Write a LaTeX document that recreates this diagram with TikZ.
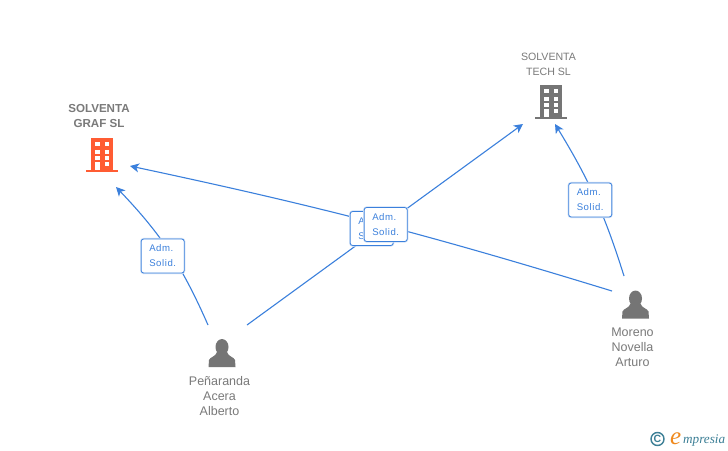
\documentclass[tikz,border=0pt]{standalone}
\usepackage{fontspec}
\usepackage{xcolor}
\setmainfont{Liberation Sans}
\newfontfamily\admfont[LetterSpace=6]{Liberation Sans}
\newfontfamily\logofont{Liberation Serif}
\usetikzlibrary{arrows.meta,calc,positioning}
\definecolor{linkblue}{HTML}{3B80DC}
\definecolor{iconorange}{HTML}{FF5C33}
\definecolor{icongray}{HTML}{757575}
\definecolor{namegray}{HTML}{7A7A7A}
\definecolor{logoteal}{HTML}{3C7F96}
\definecolor{logoorange}{HTML}{F08A1E}
\tikzset{
  building/.style={minimum width=34pt,minimum height=36pt,inner sep=0pt,
    path picture={
      \begin{scope}[shift={(path picture bounding box.center)}]
        \fill[#1] (-11,-17) rectangle (11,15);
        \fill[#1] (-16,15) rectangle (16,17);
        \foreach \wy/\wh in {-13.5/4.5,-5.5/4,1/3.5,7/4}
          \fill[white] (2.5,\wy) rectangle +(4.5,\wh);
        \foreach \wy/\wh in {-13.5/4.5,-5.5/4,1/3.5,7/8}
          \fill[white] (-7,\wy) rectangle +(4.5,\wh);
      \end{scope}
    }},
  person/.style={minimum width=30pt,minimum height=30pt,inner sep=0pt,
    path picture={
      \begin{scope}[shift={(path picture bounding box.center)}]
        \fill[icongray] (0,-6) ellipse (6.5 and 8);
        \fill[icongray] (-13.5,14) -- (-13,7) .. controls (-12,4) and (-6,3.5) .. (-5,-1)
          -- (5,-1) .. controls (6,3.5) and (12,4) .. (13,7) -- (13.5,14) -- cycle;
      \end{scope}
    }},
  personname/.style={inner sep=0pt,align=center,text=namegray,font=\fontsize{12.5}{15}\selectfont},
  firm/.style={inner sep=0pt,align=center,text=namegray,font=\fontsize{10.6}{15}\selectfont},
  link/.style={draw,color=linkblue,line width=1.1pt,-{Stealth[length=9pt,width=9pt,inset=2.5pt]}},
  adm/.style={draw=linkblue,line width=.8pt,rounded corners=2.5pt,fill=white,
    minimum width=43pt,minimum height=34pt,inner sep=0pt,align=left,text=linkblue,
    xshift=.7pt,font=\admfont\fontsize{9.6}{15}\selectfont,
    preaction={draw=linkblue!25,line width=2.2pt}}
}

\begin{document}
\begin{tikzpicture}[x=1pt,y=-1pt,on grid]
    \useasboundingbox[fill=white] (0,0) rectangle (728,450);
    \node[building=iconorange] (graf) at (102,155) {};
    \node[building=icongray] (tech) [above right=53pt and 449pt of graf] {};
    \node[person] (alberto) [below right=198pt and 120pt of graf] {};
    \node[person] (arturo)  [below right=149.5pt and 533.5pt of graf] {};
    % captions
    \node[firm,font=\fontsize{11.6}{15}\selectfont\bfseries] (graf_name) [above=39pt of graf,xshift=-3pt] {SOLVENTA\\GRAF SL};
    \node[firm] (tech_name) [above=38pt of tech,xshift=-2.5pt] {SOLVENTA\\TECH SL};
    \node[personname] (alberto_name) [below=43pt of alberto,xshift=-2.5pt] {Peñaranda\\Acera\\Alberto};
    \node[personname] (arturo_name)  [below=42.5pt of arturo,xshift=-3pt] {Moreno\\Novella\\Arturo};
    % free ends
    \coordinate (graf_s) at (116,187);
    \coordinate (graf_e) at (130,166);
    \coordinate (tech_w) at (523,124);
    \coordinate (tech_s) at (555,124);
    \coordinate (alberto_l) at (208,325);
    \coordinate (alberto_r) at (247,325);
    \coordinate (arturo_t) at (624,276);
    \coordinate (arturo_l) at (612,291);
    \path[every edge/.style={link}]
    (alberto_l) edge [bend right=10]  (graf_s)
    (arturo_l)  edge [bend right=2.5] (graf_e)
    (alberto_r) edge                  (tech_w)
    (arturo_t)  edge [bend right=7]   (tech_s);
    % labels over the lines
    \node[adm] (adm_1) at ($(alberto_l)!.5!(graf_s)$) {Adm.\\Solid.};
    \node[adm] (adm_2) at ($(arturo_l)!.5!(graf_e)$)  {Adm.\\Solid.};
    \node[adm] (adm_3) at ($(alberto_r)!.5!(tech_w)$) {Adm.\\Solid.};
    \node[adm] (adm_4) at ($(arturo_t)!.5!(tech_s)$)  {Adm.\\Solid.};
    % logo
    \node[inner sep=0pt,text=logoteal,font=\fontsize{10.5}{10}\selectfont\bfseries] (logo_c) at (657.5,439) {C};
    \draw[logoteal,line width=1.4pt] (logo_c.center) circle (6.5);
    \node[inner sep=0pt,anchor=base west,text=logoorange,font=\logofont\itshape\fontsize{25}{25}\selectfont] (logo_e) at (670,444) {e};
    \node[inner sep=0pt,anchor=base west,text=logoteal,font=\logofont\itshape\fontsize{13.2}{13}\selectfont] (logo_t) at (683,443) {mpresia};
  \end{tikzpicture}
\end{document}
